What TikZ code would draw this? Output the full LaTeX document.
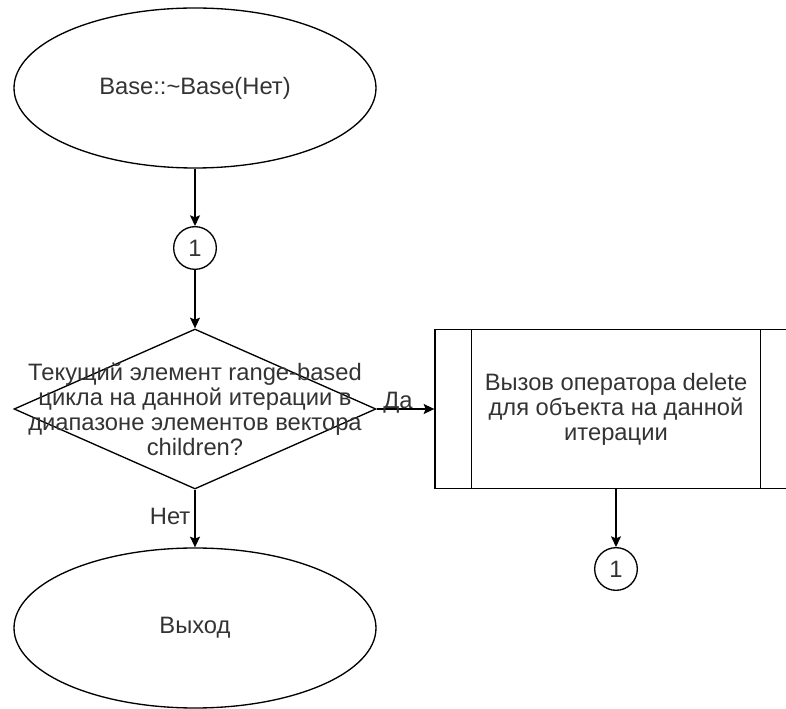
\documentclass[tikz,border=0pt]{standalone}
\usepackage{fontspec}
\setmainfont{Liberation Sans}
\usetikzlibrary{calc,shapes.geometric,arrows.meta}
\definecolor{txt}{RGB}{51,51,51}

\tikzset{
    term/.style={draw,ellipse,minimum width=271.5pt,minimum height=120pt},
    conn/.style={draw,circle,minimum size=32pt,inner sep=0pt},
    cond/.style={draw,diamond,minimum width=271.5pt,minimum height=120pt,inner sep=0pt},
    proc/.style={draw,rectangle,minimum width=271.5pt,minimum height=119.25pt},
    flow/.style={-{Stealth[length=8pt,width=7.5pt,inset=1.5pt]}},
}

\begin{document}
\begin{tikzpicture}[x=0.75pt,y=-0.75pt,line width=1pt,
    every node/.append style={font=\fontsize{17.8}{18.75}\selectfont,text=txt}]
    \useasboundingbox (0,0) rectangle (786,709);

    \node[term] (start) at (195,88) {Base::\textasciitilde Base(Нет)};
    \node[conn] (c1) at (195,248) {1};

    \node[cond] (loop) at (195,409) {};
    \node[align=center] (looptext) at (loop) {Текущий элемент range-based\\
        цикла на данной итерации в\\диапазоне элементов вектора\\children?};

    \node[proc,align=center] (del) at (616,409)
        {Вызов оператора delete\\для объекта на данной\\итерации};
    \draw ($(del.north west)+(37,0)$) -- ($(del.south west)+(37,0)$);
    \draw ($(del.north east)+(-37,0)$) -- ($(del.south east)+(-37,0)$);

    \node[conn] (c2) at (616,569) {1};
    \node[term] (exit) at (195,628) {Выход};

    \draw[flow] (start) -- (c1);
    \draw[flow] (c1) -- (loop);
    \draw[flow] (loop) -- node[pos=0.37,anchor=base,inner sep=0pt] {Да} (del);
    \draw[flow] (del) -- (c2);
    \draw[flow] (loop) -- node[pos=0.47,left,inner sep=3pt] {Нет} (exit);
\end{tikzpicture}
\end{document}
